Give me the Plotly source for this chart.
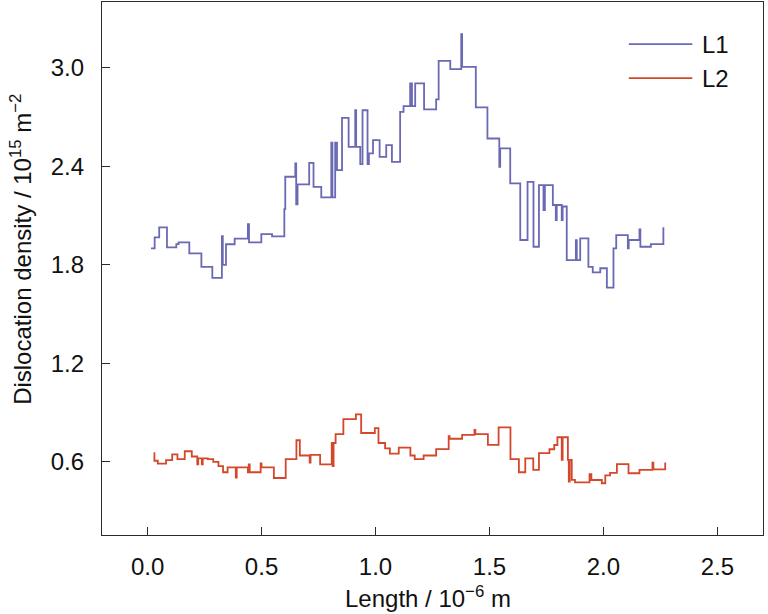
import plotly.graph_objects as go

# step profiles (x in 1e-6 m, y in 1e15 m^-2)
L1_X = [0.015, 0.031, 0.051, 0.085, 0.126, 0.136, 0.183, 0.236, 0.284, 0.326, 0.330, 0.344,
        0.382, 0.440, 0.445, 0.499, 0.546, 0.600, 0.604, 0.648, 0.652, 0.658, 0.709, 0.728,
        0.762, 0.806, 0.811, 0.823, 0.831, 0.853, 0.882, 0.911, 0.915, 0.933, 0.943, 0.965,
        0.971, 0.989, 1.018, 1.047, 1.072, 1.108, 1.123, 1.152, 1.160, 1.174, 1.213, 1.266,
        1.277, 1.328, 1.376, 1.380, 1.440, 1.491, 1.543, 1.547, 1.591, 1.635, 1.667, 1.693,
        1.717, 1.737, 1.743, 1.778, 1.791, 1.795, 1.817, 1.821, 1.839, 1.879, 1.883, 1.898,
        1.934, 1.953, 1.986, 2.015, 2.044, 2.056, 2.107, 2.111, 2.158, 2.162, 2.208, 2.263,
        2.263]
L1_Y = [1.900, 1.967, 2.028, 1.906, 1.926, 1.937, 1.870, 1.788, 1.721, 1.975, 1.799, 1.925,
        1.959, 2.048, 1.937, 1.987, 1.973, 2.139, 2.336, 2.417, 2.168, 2.290, 2.421, 2.275,
        2.210, 2.543, 2.210, 2.543, 2.377, 2.695, 2.518, 2.741, 2.518, 2.413, 2.741, 2.413,
        2.478, 2.559, 2.457, 2.529, 2.427, 2.731, 2.766, 2.904, 2.766, 2.904, 2.746, 2.807,
        3.041, 2.991, 3.204, 3.005, 2.758, 2.569, 2.397, 2.509, 2.296, 1.951, 2.305, 1.910,
        2.285, 2.133, 2.285, 2.164, 2.072, 2.164, 2.072, 2.155, 1.829, 1.950, 1.829, 1.961,
        1.788, 1.754, 1.779, 1.661, 1.900, 1.981, 1.900, 1.951, 2.016, 1.910, 1.926, 1.926,
        2.028]

L2_X = [0.027, 0.030, 0.045, 0.081, 0.108, 0.131, 0.163, 0.194, 0.218, 0.222, 0.238, 0.242,
        0.264, 0.288, 0.311, 0.331, 0.351, 0.387, 0.391, 0.440, 0.444, 0.448, 0.496, 0.500,
        0.554, 0.606, 0.653, 0.668, 0.711, 0.715, 0.757, 0.808, 0.812, 0.816, 0.825, 0.859,
        0.914, 0.937, 0.997, 1.013, 1.042, 1.063, 1.102, 1.153, 1.172, 1.211, 1.266, 1.321,
        1.325, 1.380, 1.434, 1.438, 1.493, 1.540, 1.592, 1.629, 1.657, 1.692, 1.717, 1.763,
        1.784, 1.798, 1.817, 1.821, 1.844, 1.848, 1.852, 1.861, 1.875, 1.939, 1.947, 1.993,
        2.008, 2.029, 2.059, 2.110, 2.158, 2.215, 2.219, 2.271, 2.271]
L2_Y = [0.654, 0.607, 0.589, 0.611, 0.646, 0.617, 0.665, 0.633, 0.585, 0.622, 0.585, 0.622,
        0.617, 0.600, 0.574, 0.537, 0.567, 0.504, 0.567, 0.537, 0.585, 0.537, 0.591, 0.567,
        0.502, 0.617, 0.732, 0.639, 0.596, 0.643, 0.585, 0.715, 0.574, 0.715, 0.769, 0.860,
        0.889, 0.776, 0.806, 0.715, 0.682, 0.650, 0.687, 0.639, 0.617, 0.639, 0.678, 0.757,
        0.741, 0.765, 0.795, 0.769, 0.704, 0.810, 0.617, 0.537, 0.622, 0.552, 0.654, 0.677,
        0.703, 0.750, 0.612, 0.750, 0.612, 0.480, 0.612, 0.491, 0.475, 0.525, 0.490, 0.470,
        0.518, 0.533, 0.586, 0.531, 0.551, 0.596, 0.555, 0.555, 0.596]

X_TICKS = [0.0, 0.5, 1.0, 1.5, 2.0, 2.5]
Y_TICKS = [0.6, 1.2, 1.8, 2.4, 3.0]

COLOR_L1 = "#6a69b3"
COLOR_L2 = "#d4472b"
FONT = "Liberation Sans, Arial, sans-serif"
AXIS_COLOR = "#2b2b2b"

fig = go.Figure()
fig.add_trace(go.Scatter(x=L1_X, y=L1_Y, mode="lines", name="L1", line_shape="hv",
                         line=dict(color=COLOR_L1, width=1.8)))
fig.add_trace(go.Scatter(x=L2_X, y=L2_Y, mode="lines", name="L2", line_shape="hv",
                         line=dict(color=COLOR_L2, width=1.8)))

axis_style = dict(
  showline=True, linecolor=AXIS_COLOR, linewidth=1.3, mirror=True,
  ticks="inside", ticklen=8, tickwidth=1.3, tickcolor=AXIS_COLOR,
  showgrid=False, zeroline=False,
  tickfont=dict(family=FONT, size=24, color="#111111"),
)

fig.update_xaxes(range=[-0.2, 2.7], tickvals=X_TICKS, tickformat=".1f",
                 ticklabelstandoff=10, **axis_style)
fig.update_yaxes(range=[0.155, 3.40], tickvals=Y_TICKS, tickformat=".1f",
                 ticklabelstandoff=12, **axis_style)

# legend drawn by hand so the line samples get the long look of the original
legend_rows = [("L1", COLOR_L1, 0.921), ("L2", COLOR_L2, 0.857)]
for label, color, ypos in legend_rows:
  fig.add_shape(type="line", xref="paper", yref="paper", x0=0.797, x1=0.893,
                y0=ypos, y1=ypos, line=dict(color=color, width=1.8))
  fig.add_annotation(text=label, xref="paper", yref="paper", x=0.905, y=ypos,
                     xanchor="left", yanchor="middle", showarrow=False,
                     font=dict(family=FONT, size=24, color="#111111"))

fig.add_annotation(text="Dislocation density / 10<sup>15</sup> m<sup>\u22122</sup>",
                   xref="paper", yref="paper", x=-0.1225, y=0.535, textangle=-90,
                   xanchor="center", yanchor="middle", showarrow=False,
                   font=dict(family=FONT, size=24, color="#111111"))
fig.add_annotation(text="Length / 10<sup>\u22126</sup> m",
                   xref="paper", yref="paper", x=0.493, y=-0.116,
                   xanchor="center", yanchor="middle", showarrow=False,
                   font=dict(family=FONT, size=24, color="#111111"))

fig.update_layout(
  width=768, height=614,
  margin=dict(l=102, r=5, t=2, b=79),
  plot_bgcolor="white", paper_bgcolor="white",
  showlegend=False,
  font=dict(family=FONT),
)

# the page body has a default 8px margin; drop it so the figure sits at the corner
fig.write_html("out.html", config={"displayModeBar": False},
               post_script="document.body.style.margin='0';document.body.style.overflow='hidden';")
